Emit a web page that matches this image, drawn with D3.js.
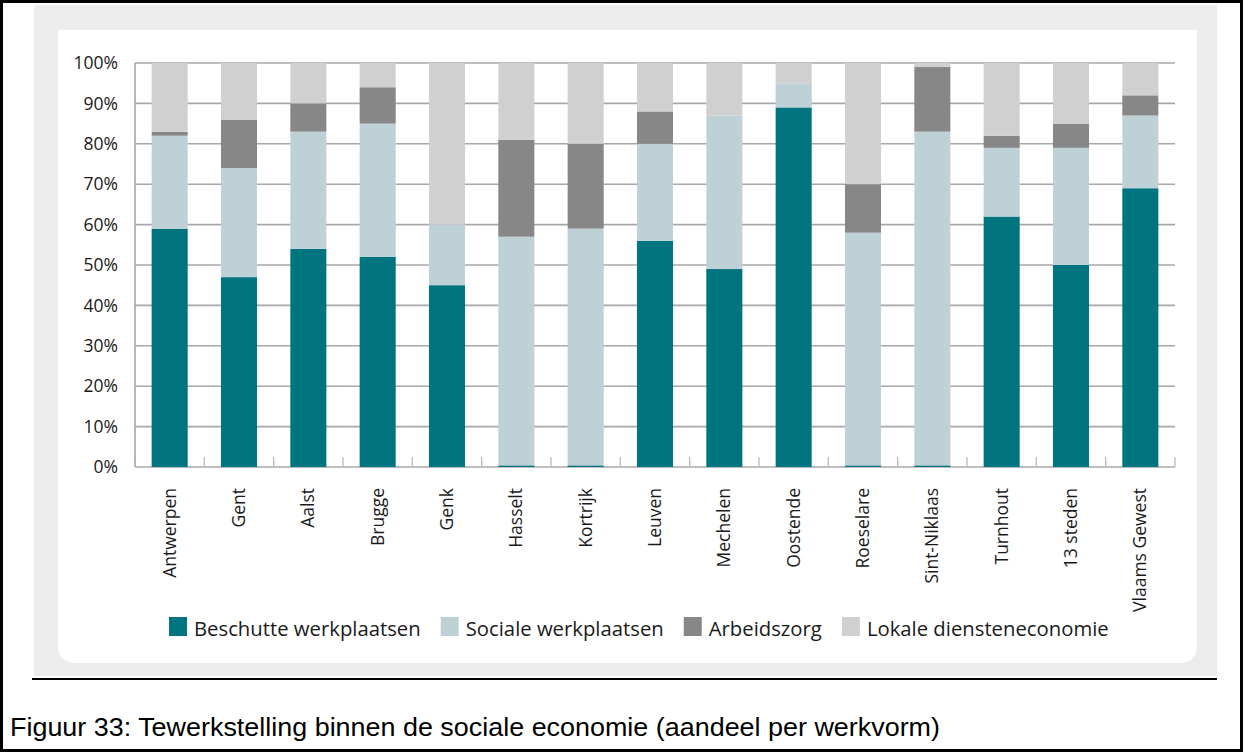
<!DOCTYPE html>
<html>
<head>
<meta charset="utf-8">
<script src="https://cdn.jsdelivr.net/npm/d3@7"></script>
<style>
  html, body { margin: 0; padding: 0; background: #fff; }
  svg { display: block; }
</style>
</head>
<body>
<svg id="chart" width="1244" height="753"></svg>
<script>
// ---- Data ----
const categories = ["Antwerpen", "Gent", "Aalst", "Brugge", "Genk", "Hasselt", "Kortrijk", "Leuven",
  "Mechelen", "Oostende", "Roeselare", "Sint-Niklaas", "Turnhout", "13 steden", "Vlaams Gewest"];
const seriesNames = ["Beschutte werkplaatsen", "Sociale werkplaatsen", "Arbeidszorg", "Lokale diensteneconomie"];
const beschutte = [59, 47, 54, 52, 45, 0.4, 0.4, 56, 49, 89, 0.4, 0.4, 62, 50, 69];
const sociale   = [23, 27, 29, 33, 15, 56.6, 58.6, 24, 38, 6, 57.6, 82.6, 17, 29, 18];
const arbeid    = [1, 12, 7, 9, 0, 24, 21, 8, 0, 0, 12, 16, 3, 6, 5];
const lokale    = [17, 14, 10, 6, 40, 19, 20, 12, 13, 5, 30, 1, 18, 15, 8];
const yTicks = [0, 10, 20, 30, 40, 50, 60, 70, 80, 90, 100];
const yTickLabels = ["0%", "10%", "20%", "30%", "40%", "50%", "60%", "70%", "80%", "90%", "100%"];
const colors = ["#00757f", "#bed1d7", "#878787", "#d0d0d0"];
const caption = "Figuur 33: Tewerkstelling binnen de sociale economie (aandeel per werkvorm)";

// ---- Layout ----
const svg = d3.select("#chart");
const plot = { left: 135, right: 1175, top: 63, bottom: 467 };

// outer frame
svg.append("rect").attr("x", 1.5).attr("y", 1.5).attr("width", 1240).attr("height", 749)
  .attr("fill", "#fff").attr("stroke", "#000").attr("stroke-width", 3);

// gray panel
svg.append("rect").attr("x", 34).attr("y", 5).attr("width", 1183).attr("height", 671).attr("fill", "#ececec");

// white inner panel with rounded bottom corners
const wx0 = 58, wy0 = 30, wx1 = 1197, wy1 = 663, r = 18;
svg.append("path")
  .attr("d", `M${wx0},${wy0} H${wx1} V${wy1 - r} Q${wx1},${wy1} ${wx1 - r},${wy1} H${wx0 + r} Q${wx0},${wy1} ${wx0},${wy1 - r} Z`)
  .attr("fill", "#fff");

// black rule under panel
svg.append("line").attr("x1", 32).attr("x2", 1217).attr("y1", 679).attr("y2", 679)
  .attr("stroke", "#000").attr("stroke-width", 2);

// caption
svg.append("text").attr("x", 10).attr("y", 736)
  .attr("font-family", "Liberation Sans, Arial, sans-serif").attr("font-size", 25).attr("fill", "#000")
  .attr("textLength", 930).attr("lengthAdjust", "spacingAndGlyphs")
  .text(caption);

// ---- Scales ----
const x = d3.scaleBand().domain(categories).range([plot.left, plot.right])
  .paddingInner(0.48).paddingOuter(0.24);
const y = d3.scaleLinear().domain([0, 100]).range([plot.bottom, plot.top]);

// gridlines
const g = svg.append("g");
g.selectAll("line.grid").data(yTicks).join("line")
  .attr("class", "grid")
  .attr("x1", plot.left).attr("x2", plot.right)
  .attr("y1", d => y(d)).attr("y2", d => y(d))
  .attr("stroke", "#a8a8a8").attr("stroke-width", 1.6);

// y axis line
g.append("line").attr("x1", plot.left).attr("x2", plot.left)
  .attr("y1", y(100)).attr("y2", y(0)).attr("stroke", "#a8a8a8").attr("stroke-width", 1.6);

// y labels
g.selectAll("text.ylab").data(yTicks).join("text")
  .attr("class", "ylab")
  .attr("x", 118).attr("y", d => y(d)).attr("dy", "0.35em")
  .attr("text-anchor", "end")
  .attr("font-family", "Open Sans, sans-serif").attr("font-size", 17.5).attr("fill", "#1a1a1a")
  .text((d, i) => yTickLabels[i]);

// stacked bars
const table = categories.map((c, i) => ({
  cat: c, [seriesNames[0]]: beschutte[i], [seriesNames[1]]: sociale[i],
  [seriesNames[2]]: arbeid[i], [seriesNames[3]]: lokale[i]
}));
const stack = d3.stack().keys(seriesNames)(table);
const bars = svg.append("g");
stack.forEach((layer, li) => {
  bars.append("g").attr("fill", colors[li])
    .selectAll("rect").data(layer).join("rect")
    .attr("x", d => x(d.data.cat))
    .attr("width", x.bandwidth())
    .attr("y", d => y(d[1]))
    .attr("height", d => Math.max(0, y(d[0]) - y(d[1])));
});

// x tick marks (inside, at band boundaries)
const step = x.step();
const boundaries = d3.range(categories.length + 1).map(i => plot.left + i * step);
svg.append("g").selectAll("line").data(boundaries).join("line")
  .attr("x1", d => d).attr("x2", d => d)
  .attr("y1", y(0)).attr("y2", y(0) - 10)
  .attr("stroke", "#b5b5b5").attr("stroke-width", 1.2);

// x labels rotated
svg.append("g").selectAll("text").data(categories).join("text")
  .attr("transform", d => `translate(${x(d) + x.bandwidth() / 2 + 6},488) rotate(-90)`)
  .attr("text-anchor", "end")
  .attr("font-family", "Open Sans, sans-serif").attr("font-size", 17.5).attr("fill", "#1a1a1a")
  .text(d => d);

// legend
const legend = svg.append("g");
let lx = 169;
seriesNames.forEach((name, i) => {
  legend.append("rect").attr("x", lx).attr("y", 617).attr("width", 18).attr("height", 19).attr("fill", colors[i]);
  const t = legend.append("text").attr("x", lx + 25).attr("y", 636)
    .attr("font-family", "Open Sans, sans-serif").attr("font-size", 20.3).attr("fill", "#1a1a1a")
    .text(name);
  lx += 25 + t.node().getComputedTextLength() + 20;
});
</script>
</body>
</html>
